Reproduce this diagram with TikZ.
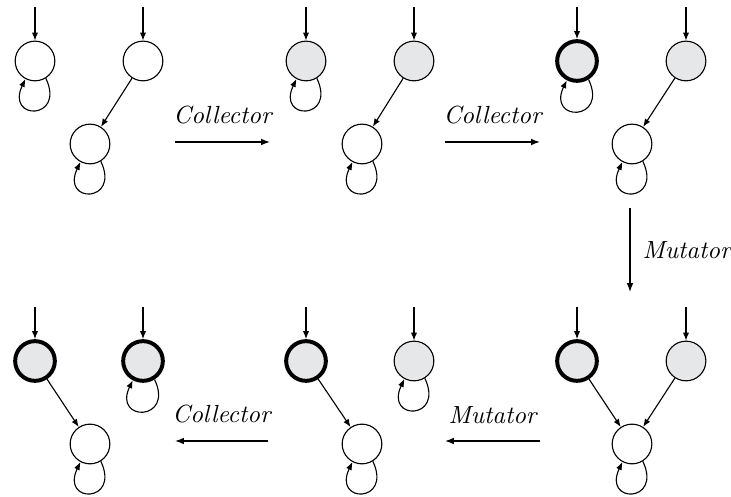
\documentclass[tikz,border=0pt]{standalone}
\usetikzlibrary{arrows.meta}
\definecolor{GcGray}{HTML}{E6E7E8}
\tikzset{
  gccell/.style={
    draw=black,
    circle,
    fill=white,
    minimum size=16pt,
    inner sep=0pt,
    line width=0.45pt
  },
  gcgray/.style={
    gccell,
    fill=GcGray
  },
  gcmarked/.style={
    gcgray,
    line width=1.6pt
  },
  gcedge/.style={-{Latex[length=3.2pt,width=2.5pt]},line width=0.45pt},
  gcstep/.style={-{Latex[length=3.6pt,width=2.7pt]},line width=0.5pt},
  gclabel/.style={font=\itshape}
}
\newcommand\gcloop[1]{\draw[gcedge] (#1.-58) .. controls +(20,-42) and +(-20,-42) .. (#1.-118);}
\newcommand\gcroot[1]{\draw[gcedge] (#1) ++(0,54) coordinate (in-#1) -- (#1);}

\begin{document}
\begin{tikzpicture}[x=0.403pt,y=0.403pt]
  \useasboundingbox (0,0) rectangle (731,497);
  % top row
  \node[gccell] (a1) at (35,436) {};
  \node[gccell] (a2) at (143,436) {};
  \node[gccell] (a3) at (90,353) {};
  \node[gcgray] (b1) at (306,436) {};
  \node[gcgray] (b2) at (414,436) {};
  \node[gccell] (b3) at (362,353) {};
  \node[gcmarked] (c1) at (577,436) {};
  \node[gcgray] (c2) at (686,436) {};
  \node[gccell] (c3) at (632,353) {};
  % bottom row
  \node[gcmarked] (d1) at (577,136) {};
  \node[gcgray] (d2) at (686,136) {};
  \node[gccell] (d3) at (632,53) {};
  \node[gcmarked] (e1) at (306,136) {};
  \node[gcgray] (e2) at (414,136) {};
  \node[gccell] (e3) at (362,53) {};
  \node[gcmarked] (f1) at (35,136) {};
  \node[gcmarked] (f2) at (143,136) {};
  \node[gccell] (f3) at (90,53) {};

  \foreach \n in {a1,a2,b1,b2,c1,c2,d1,d2,e1,e2,f1,f2} {\gcroot{\n}}
  \foreach \n in {a1,a3,b1,b3,c1,c3,d3,e2,e3,f2,f3} {\gcloop{\n}}

  \draw[gcedge] (a2) -- (a3);
  \draw[gcedge] (b2) -- (b3);
  \draw[gcedge] (c2) -- (c3);
  \draw[gcedge] (d1) -- (d3);
  \draw[gcedge] (d2) -- (d3);
  \draw[gcedge] (e1) -- (e3);
  \draw[gcedge] (f1) -- (f3);

  % steps between the states
  \coordinate (s1a) at (175,355);
  \coordinate (s1b) at (270,355);
  \coordinate (s2a) at (445,355);
  \coordinate (s2b) at (540,355);
  \coordinate (s3a) at (630,289);
  \coordinate (s3b) at (630,205);
  \coordinate (s4a) at (540,56);
  \coordinate (s4b) at (445,56);
  \coordinate (s5a) at (268,56);
  \coordinate (s5b) at (175,56);
  \draw[gcstep] (s1a) -- node[gclabel,above=3.5pt] {Collector} (s1b);
  \draw[gcstep] (s2a) -- node[gclabel,above=3.5pt] {Collector} (s2b);
  \draw[gcstep] (s3a) -- node[gclabel,right=1.5pt] {Mutator} (s3b);
  \draw[gcstep] (s4a) -- node[gclabel,above=3.5pt] {Mutator} (s4b);
  \draw[gcstep] (s5a) -- node[gclabel,above=3.5pt] {Collector} (s5b);
\end{tikzpicture}
\end{document}
